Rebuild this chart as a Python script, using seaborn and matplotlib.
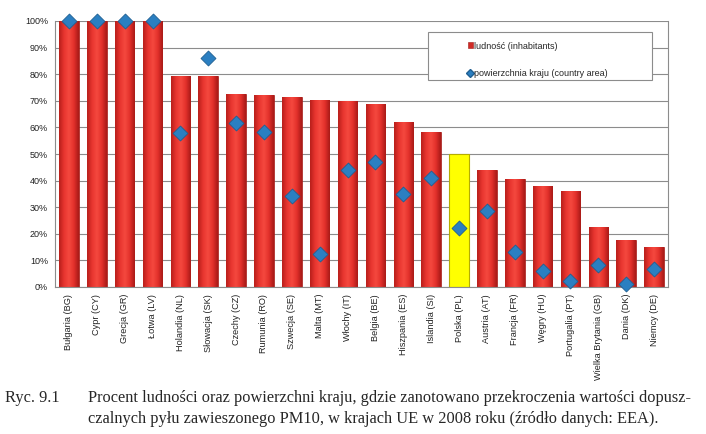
import numpy as np
import pandas as pd
import matplotlib
matplotlib.use("Agg")
import matplotlib.pyplot as plt
import seaborn as sns
from matplotlib.patches import Rectangle, Patch
from matplotlib.lines import Line2D
from matplotlib.colors import LinearSegmentedColormap

countries = ["Bułgaria (BG)", "Cypr (CY)", "Grecja (GR)", "Łotwa (LV)", "Holandia (NL)",
             "Słowacja (SK)", "Czechy (CZ)", "Rumunia (RO)", "Szwecja (SE)", "Malta (MT)",
             "Włochy (IT)", "Belgia (BE)", "Hiszpania (ES)", "Islandia (SI)", "Polska (PL)",
             "Austria (AT)", "Francja (FR)", "Węgry (HU)", "Portugalia (PT)",
             "Wielka Brytania (GB)", "Dania (DK)", "Niemcy (DE)"]
ludnosc = [100, 100, 100, 100, 79.3, 79.3, 72.5, 72.3, 71.4, 70.2, 69.8, 68.7, 62.0,
           58.3, 50.0, 43.8, 40.5, 37.9, 36.0, 22.5, 17.5, 15.2]
powierzchnia = [100, 100, 100, 100, 57.8, 86.0, 61.8, 58.2, 34.2, 12.3, 44.1, 47.0, 34.8,
                41.0, 22.2, 28.7, 13.0, 6.0, 2.4, 8.4, 1.3, 6.9]
yticks = list(range(0, 101, 10))
highlight = "Polska (PL)"
legend_labels = ["ludność (inhabitants)", "powierzchnia kraju (country area)"]
caption_num = "Ryc. 9.1"
caption_lines = ["Procent ludności oraz powierzchni kraju, gdzie zanotowano przekroczenia wartości dopusz-",
                 "czalnych pyłu zawieszonego PM10, w krajach UE w 2008 roku (źródło danych: EEA)."]

RED = "#e3302b"
YELLOW = "#ffff00"
BLUE = "#2b7fc1"
GRID = "#8c8c8c"

df = pd.DataFrame({"country": countries, "ludnosc": ludnosc, "area": powierzchnia})
df["pos"] = np.arange(len(countries))
palette = {c: (YELLOW if c == highlight else RED) for c in countries}

sns.set_style("white")
plt.rcParams["font.family"] = ["Liberation Sans", "DejaVu Sans"]

fig = plt.figure(figsize=(7.06, 4.34), dpi=100)
ax = fig.add_axes([55 / 706, 1 - 287 / 434, (668 - 55) / 706, (287 - 21) / 434])

sns.barplot(data=df, x="country", y="ludnosc", hue="country", palette=palette,
            legend=False, width=0.7, ax=ax, zorder=2, saturation=1)

# bar edges & gradient shading
cmap_red = LinearSegmentedColormap.from_list(
    "r", ["#b81f1b", "#e8352f", "#f5493f", "#e3302b", "#a81a17"])
grad = np.linspace(0, 1, 64).reshape(1, -1)
for patch, c in zip(ax.patches, countries):
    if c == highlight:
        patch.set_edgecolor("#b5ad00")
        patch.set_linewidth(0.8)
        continue
    patch.set_edgecolor("#9e1a17")
    patch.set_linewidth(0.5)
    x0, y0 = patch.get_x(), patch.get_y()
    w, h = patch.get_width(), patch.get_height()
    im = ax.imshow(grad, extent=[x0, x0 + w, y0, y0 + h], aspect="auto",
                   cmap=cmap_red, zorder=2.5, interpolation="bicubic")
    im.set_clip_path(patch)

sns.scatterplot(data=df, x="pos", y="area", marker="D", s=58, color=BLUE,
                edgecolor="#1f5f92", linewidth=0.6, ax=ax, zorder=5, clip_on=False)

ax.set_xlim(-0.5, len(countries) - 0.5)
ax.set_ylim(0, 100)
ax.set_yticks(yticks)
ax.set_yticklabels([f"{v}%" for v in yticks], fontsize=6.5, color="#222222")
ax.yaxis.grid(True, color=GRID, linewidth=0.8, zorder=0)
ax.set_axisbelow(True)
ax.set_xticks(np.arange(len(countries)))
ax.set_xticklabels(countries, rotation=90, fontsize=6.6, color="#222222")
ax.set_xticks(np.arange(len(countries) + 1) - 0.5, minor=True)
ax.tick_params(axis="x", which="major", length=0, pad=5)
ax.tick_params(axis="x", which="minor", length=4, color=GRID, width=0.8)
ax.tick_params(axis="y", length=3, color=GRID, width=0.8, pad=2)
ax.set_xlabel("")
ax.set_ylabel("")
for s in ["left", "bottom", "right"]:
    ax.spines[s].set_visible(True)
    ax.spines[s].set_color(GRID)
    ax.spines[s].set_linewidth(0.8)
ax.spines["top"].set_visible(False)

# legend box
fig.patches.append(Rectangle((428 / 706, 1 - 80 / 434), (652 - 428) / 706, 48 / 434,
                             transform=fig.transFigure, facecolor="white",
                             edgecolor=GRID, linewidth=0.8, zorder=10))
handles = [Patch(facecolor="#d02a25", edgecolor="#9e1a17", linewidth=0.4),
           Line2D([], [], marker="D", linestyle="none", color=BLUE,
                  markeredgecolor="#1f5f92", markersize=4)]
leg = fig.legend(handles, legend_labels, loc="upper left",
                 bbox_to_anchor=(463 / 706, 1 - 37 / 434), frameon=False,
                 fontsize=6.5, handlelength=0.6, handleheight=0.6, handletextpad=0.1,
                 labelspacing=2.1, borderpad=0)
leg.set_zorder(11)

# caption
serif = ["Liberation Serif", "DejaVu Serif"]
fig.text(5 / 706, 1 - 398 / 434, caption_num, family=serif, fontsize=11.8,
         va="center", ha="left")
fig.text(88 / 706, 1 - 398 / 434, caption_lines[0], family=serif, fontsize=11.8,
         va="center", ha="left")
fig.text(88 / 706, 1 - 419 / 434, caption_lines[1], family=serif, fontsize=11.8,
         va="center", ha="left")

fig.savefig("out.png", dpi=100)
